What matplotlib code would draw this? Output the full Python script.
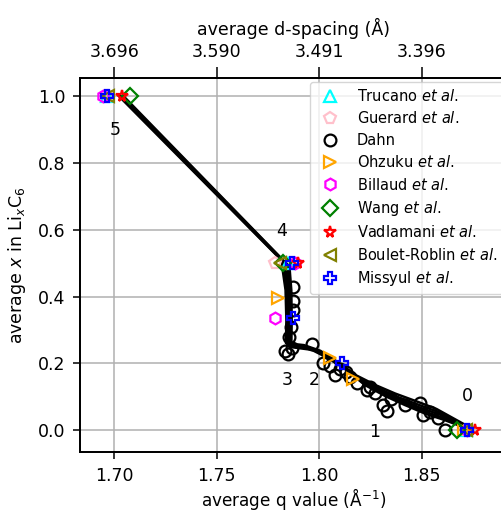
import numpy as np
import matplotlib
matplotlib.use("Agg")
import matplotlib.pyplot as plt

# ---- data ---------------------------------------------------------------
# average q (1/Å) and average x in LixC6 along the lithiation path
path_q = [
    [1.7035, 1.7835, 1.7850, 1.7852, 1.7850, 1.7945, 1.8028, 1.8120, 1.8199, 1.8300, 1.8394, 1.8500, 1.8589, 1.8726],
    [1.7024, 1.7815, 1.7836, 1.7840, 1.7838, 1.7926, 1.8006, 1.8096, 1.8176, 1.8276, 1.8371, 1.8482, 1.8572, 1.8716],
    [1.7046, 1.7855, 1.7864, 1.7866, 1.7864, 1.7964, 1.8050, 1.8144, 1.8222, 1.8324, 1.8417, 1.8521, 1.8606, 1.8736],
    [1.7030, 1.7825, 1.7843, 1.7846, 1.7844, 1.7936, 1.8017, 1.8108, 1.8188, 1.8288, 1.8382, 1.8491, 1.8580, 1.8721],
    [1.7040, 1.7845, 1.7857, 1.7859, 1.7857, 1.7955, 1.8039, 1.8132, 1.8210, 1.8312, 1.8406, 1.8510, 1.8597, 1.8731],
]
path_x = [
    [1.000, 0.500, 0.420, 0.330, 0.255, 0.248, 0.227, 0.190, 0.151, 0.118, 0.092, 0.066, 0.047, 0.008],
    [1.000, 0.510, 0.420, 0.330, 0.261, 0.255, 0.238, 0.202, 0.166, 0.135, 0.110, 0.085, 0.064, 0.015],
    [1.000, 0.490, 0.420, 0.330, 0.249, 0.241, 0.214, 0.176, 0.136, 0.102, 0.076, 0.049, 0.032, 0.002],
    [1.000, 0.505, 0.420, 0.330, 0.258, 0.251, 0.232, 0.196, 0.158, 0.126, 0.100, 0.075, 0.055, 0.011],
    [1.000, 0.495, 0.420, 0.330, 0.252, 0.245, 0.221, 0.183, 0.144, 0.110, 0.084, 0.057, 0.039, 0.005],
]

dahn_q = [1.7874, 1.7874, 1.7870, 1.7862, 1.7855, 1.7833, 1.7849, 1.7866, 1.7963, 1.8020,
          1.8053, 1.8077, 1.8130, 1.8183, 1.8232, 1.8272, 1.8313, 1.8329, 1.8492, 1.8508,
          1.8581, 1.8614, 1.8100, 1.8150, 1.8250, 1.8350, 1.8420, 1.8540]
dahn_x = [0.430, 0.387, 0.360, 0.310, 0.280, 0.237, 0.227, 0.247, 0.257, 0.200,
          0.192, 0.167, 0.175, 0.142, 0.122, 0.112, 0.077, 0.057, 0.082, 0.047,
          0.037, 0.002, 0.185, 0.160, 0.130, 0.095, 0.075, 0.055]

trucano_q = [1.6965, 1.7850, 1.8715]
trucano_x = [1.0, 0.5, 0.0]
guerard_q = [1.6968, 1.7784, 1.8718]
guerard_x = [1.0, 0.5, 0.0]
ohzuku_q = [1.7800, 1.8053, 1.8163, 1.8705]
ohzuku_x = [0.395, 0.217, 0.154, 0.0]
billaud_q = [1.6945, 1.7880, 1.7784, 1.8720]
billaud_x = [1.0, 0.5, 0.335, 0.0]
wang_q = [1.7077, 1.7823, 1.8671]
wang_x = [1.0, 0.5, 0.0]
vadlamani_q = [1.7037, 1.7896, 1.8760]
vadlamani_x = [1.0, 0.5, 0.0]
boulet_q = [1.6970, 1.7808, 1.8715]
boulet_x = [1.0, 0.5, 0.0]
missyul_q = [1.6963, 1.7867, 1.7874, 1.8110, 1.8723]
missyul_x = [1.0, 0.5, 0.335, 0.202, 0.0]

stage_labels = ["5", "4", "3", "2", "1", "0"]
stage_q = [1.7005, 1.7818, 1.7843, 1.7975, 1.8272, 1.8722]
stage_x = [0.900, 0.596, 0.151, 0.151, -0.004, 0.104]

q_ticks = [1.70, 1.75, 1.80, 1.85]
y_ticks = [0.0, 0.2, 0.4, 0.6, 0.8, 1.0]

# ---- figure ---------------------------------------------------------------
FS = 12.5
fig = plt.figure(figsize=(5.01, 5.12), dpi=100)
ax = fig.add_axes([0.1597, 0.1172, 0.8537, 0.7305])

ax.grid(True, color="#b0b0b0", linewidth=1.1, zorder=0)
ax.set_axisbelow(True)

for q, x in zip(path_q, path_x):
    ax.plot(q, x, color="black", linewidth=1.8, zorder=2)

mk = dict(linestyle="none", fillstyle="none", markersize=8.5, markeredgewidth=1.6)
series = [
    (trucano_q, trucano_x, "^", "cyan", r"Trucano $\it{et\ al}$."),
    (guerard_q, guerard_x, "p", "pink", r"Guerard $\it{et\ al}$."),
    (dahn_q, dahn_x, "o", "black", "Dahn"),
    (ohzuku_q, ohzuku_x, ">", "orange", r"Ohzuku $\it{et\ al}$."),
    (billaud_q, billaud_x, "h", "magenta", r"Billaud $\it{et\ al}$."),
    (wang_q, wang_x, "D", "green", r"Wang $\it{et\ al}$."),
    (vadlamani_q, vadlamani_x, "*", "red", r"Vadlamani $\it{et\ al}$."),
    (boulet_q, boulet_x, "<", "olive", r"Boulet-Roblin $\it{et\ al}$."),
    (missyul_q, missyul_x, "P", "blue", r"Missyul $\it{et\ al}$."),
]
for q, x, m, c, lab in series:
    ax.plot(q, x, marker=m, color=c, label=lab, zorder=3, **mk)

for s, q, x in zip(stage_labels, stage_q, stage_x):
    ax.text(q, x, s, fontsize=FS, ha="center", va="center", zorder=4)

ax.set_xlim(1.6833, 1.892)
ax.set_ylim(-0.065, 1.055)
ax.set_xticks(q_ticks)
ax.set_xticklabels([f"{v:.2f}" for v in q_ticks])
ax.set_yticks(y_ticks)
ax.set_yticklabels([f"{v:.1f}" for v in y_ticks])
ax.tick_params(axis="x", labelsize=FS, length=5.3, width=1.1, pad=5.5)
ax.tick_params(axis="y", labelsize=FS, length=5.3, width=1.1, pad=5)
for sp in ax.spines.values():
    sp.set_linewidth(1.3)

ax.set_xlabel("average q value (Å$^{-1}$)", fontsize=12.2, labelpad=0.5)
ax.set_ylabel("average $x$ in Li$_x$C$_6$", fontsize=FS, labelpad=7)

top = ax.twiny()
top.set_xlim(ax.get_xlim())
top.set_xticks(q_ticks)
top.set_xticklabels([f"{2 * np.pi / v:.3f}" for v in q_ticks])
top.tick_params(labelsize=FS, length=8, width=1.1, pad=4)
top.set_xlabel("average d-spacing (Å)", fontsize=FS, labelpad=6)
for sp in top.spines.values():
    sp.set_linewidth(1.3)

ax.legend(loc="upper left", bbox_to_anchor=(0.5378, 0.989), borderaxespad=0,
          fontsize=10.5, numpoints=1, framealpha=0.8, edgecolor="#cccccc",
          labelspacing=0.44)

fig.savefig("out.png", dpi=100)
